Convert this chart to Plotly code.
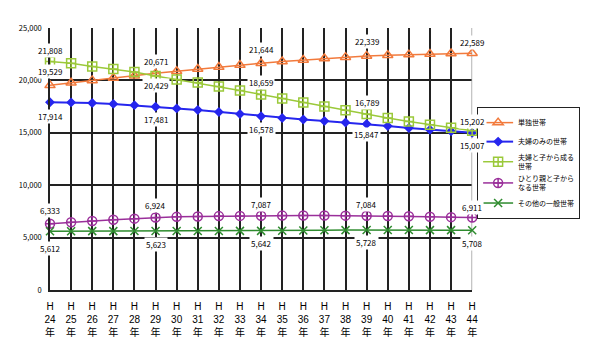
import plotly.graph_objects as go

years = [f"H<br>{n}<br>年" for n in range(24, 45)]

single = [19529, 19770, 20000, 20230, 20450, 20671, 20880, 21080, 21270, 21460, 21644,
          21800, 21950, 22090, 22220, 22339, 22400, 22460, 22510, 22560, 22589]
couple = [17914, 17900, 17840, 17760, 17640, 17481, 17330, 17170, 16990, 16790, 16578,
          16420, 16270, 16130, 15990, 15847, 15640, 15450, 15290, 15150, 15007]
couple_child = [21808, 21630, 21330, 21090, 20800, 20429, 20080, 19790, 19420, 19040, 18659,
                18280, 17900, 17520, 17150, 16789, 16420, 16080, 15770, 15480, 15202]
single_parent = [6333, 6470, 6590, 6700, 6810, 6924, 6980, 7020, 7050, 7070, 7087,
                 7100, 7105, 7105, 7095, 7084, 7060, 7030, 6990, 6950, 6911]
other = [5612, 5614, 5617, 5619, 5621, 5623, 5627, 5631, 5635, 5639, 5642,
         5660, 5680, 5700, 5715, 5728, 5725, 5721, 5716, 5712, 5708]

names = ["単独世帯", "夫婦のみの世帯", "夫婦と子から成る<br>世帯", "ひとり親と子から<br>なる世帯", "その他の一般世帯"]
y_ticks = [0, 5000, 10000, 15000, 20000, 25000]
label_idx = [0, 5, 10, 15, 20]

FONT = "Noto Sans CJK JP"
TICKFONT = "Liberation Sans, Noto Sans CJK JP"
xs = list(range(len(years)))

styles = [
    dict(data=single, color="#f27a3c", symbol="triangle-up-open", size=9, width=1.5),
    dict(data=couple, color="#2626ee", symbol="diamond", size=6, width=2),
    dict(data=couple_child, color="#9bc93a", symbol="square-cross-open", size=9, width=1.5),
    dict(data=single_parent, color="#9a2f9a", symbol="circle-cross-open", size=9, width=1.5),
    dict(data=other, color="#2e8b2e", symbol="x-thin-open", size=8, width=1.5),
]

fig = go.Figure()
for name, st in zip(names, styles):
    fig.add_trace(go.Scatter(
        x=xs, y=st["data"], name=name, mode="lines+markers",
        line=dict(color=st["color"], width=st["width"]),
        marker=dict(symbol=st["symbol"], size=st["size"], color=st["color"],
                    line=dict(color=st["color"], width=1.5)),
        cliponaxis=False,
    ))

# label vertical offsets (px, positive = up) per series at label indices
shifts = [
    [14, 12, 14, 14, 11],      # single
    [-14, -13, -13, -11, -13], # couple
    [11, -10, 12, 12, 9],      # couple_child
    [13, 12, 11, 11, 10],      # single_parent
    [-17, -13, -13, -13, -13], # other
]
for st, sh in zip(styles, shifts):
    for i, s in zip(label_idx, sh):
        fig.add_annotation(
            x=i, y=st["data"][i], xref="x", yref="y",
            text=f"{st['data'][i]:,}", showarrow=False, yshift=s,
            font=dict(family=FONT, size=8, color="#000"),
            bgcolor="white", borderpad=1,
        )

fig.add_shape(type="line", xref="x", yref="y", x0=20, x1=20, y0=0, y1=25000,
              line=dict(color="#999", width=1.5), layer="between")

fig.update_layout(
    width=582, height=352,
    margin=dict(l=42, r=8, t=20, b=70),
    paper_bgcolor="white", plot_bgcolor="white",
    font=dict(family=FONT, color="#000"),
    showlegend=True,
    legend=dict(x=0.812, y=0.698, xanchor="left", yanchor="top",
                bordercolor="#222", borderwidth=1, bgcolor="white",
                font=dict(family=FONT, size=7), itemwidth=30,
                tracegroupgap=0),
    xaxis=dict(domain=[0, 427 / 532], tickmode="array", tickvals=xs, ticktext=years,
               range=[0, 20],
               showgrid=True, gridcolor="#222", gridwidth=1.5,
               showline=True, linecolor="#222", linewidth=1.5,
               ticks="", tickfont=dict(family=TICKFONT, size=10), zeroline=False,
               ticklabelstandoff=6),
    yaxis=dict(tickmode="array", tickvals=y_ticks, tickformat=",", range=[0, 25000],
               showgrid=True, gridcolor="#222", gridwidth=1.5,
               showline=True, linecolor="#222", linewidth=1.5,
               ticks="", tickfont=dict(family=FONT, size=7.5), zeroline=False,
               ticklabelstandoff=5),
)

fig.write_html("out.html")
